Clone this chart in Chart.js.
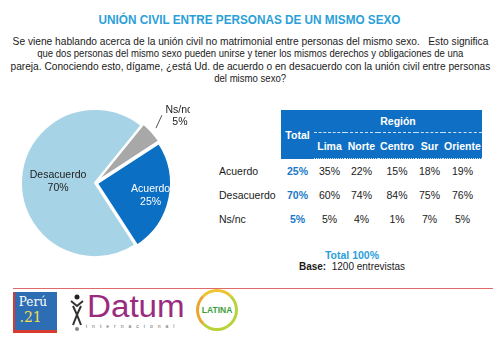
<!DOCTYPE html>
<html>
<head>
<meta charset="utf-8">
<script src="https://cdn.jsdelivr.net/npm/chart.js@4"></script>
<style>
  body { margin: 0; width: 500px; height: 340px; background: #fff; position: relative; overflow: hidden;
         font-family: "Liberation Sans", Arial, sans-serif; color: #1a1a1a; }
  .linea-txt { position: absolute; left: -250px; width: 1000px; text-align: center; white-space: nowrap; }
  .linea-txt span { display: inline-block; transform-origin: center; }
  #titulo { top: 12px; font-size: 13.5px; font-weight: bold; color: #2aa0d8; }
  .preg { font-size: 11.5px; }
  #pie { position: absolute; left: 0; top: 98px; width: 190px; height: 170px; }
  #tabla { position: absolute; left: 210px; top: 110px; border-collapse: collapse; font-size: 10.5px; table-layout: fixed; }
  #tabla td, #tabla th { padding: 0; text-align: center; white-space: nowrap; }
  #tabla th { background: #0f6fc4; color: #fff; font-weight: bold; font-size: 10.5px; }
  #tabla td.lbl { text-align: left; padding-left: 9px; }
  #tabla td.tot { color: #1a78c8; font-weight: bold; }
  #tabla tr.datos td { height: 24px; }
  #pie-tabla { position: absolute; left: 252px; top: 250px; width: 200px; text-align: center; font-size: 10px; line-height: 11px; }
  #pie-tabla .t { color: #2aa0d8; font-weight: bold; font-size: 10.5px; }
  #linea { position: absolute; left: 13px; top: 288px; width: 480px; height: 1px; background: #e06a6a; }
  #peru { position: absolute; left: 13px; top: 292px; width: 44px; height: 41px; background: #2d6db3;
          border-left: 2px solid #d83a2e; border-bottom: 3px solid #d83a2e; color: #fff;
          font-family: "DejaVu Serif", serif; font-size: 12px; line-height: 15px; padding-top: 3px; box-sizing: border-box; }
  #datum { position: absolute; left: 87px; top: 293px; height: 28px; font-size: 31px; line-height: 28px; color: #9a2c80;
           transform: scaleX(1.07); transform-origin: left; }
  #datum2 { position: absolute; left: 86px; top: 323px; font-size: 5px; line-height: 6px; letter-spacing: 5px; color: #666; }
  #latina { position: absolute; left: 196px; top: 289px; width: 42px; height: 42px; border-radius: 50%;
            border: 3px solid #b8d23a; border-left-color: #e9a52c; border-top-color: #f0c330; box-sizing: border-box;
            text-align: center; font-size: 8.5px; font-weight: bold; color: #3aa03a; line-height: 37px; }
</style>
</head>
<body>
<div id="titulo" class="linea-txt"><span data-w="302">UNIÓN CIVIL ENTRE PERSONAS DE UN MISMO SEXO</span></div>
<div class="linea-txt preg" style="top:35px"><span data-w="476">Se viene hablando acerca de la unión civil no matrimonial entre personas del mismo sexo.&nbsp;&nbsp; Esto significa</span></div>
<div class="linea-txt preg" style="top:47px"><span data-w="426">que dos personas del mismo sexo pueden unirse y tener los mismos derechos y obligaciones de una</span></div>
<div class="linea-txt preg" style="top:60px"><span data-w="480">pareja. Conociendo esto, dígame, ¿está Ud. de acuerdo o en desacuerdo con la unión civil entre personas</span></div>
<div class="linea-txt preg" style="top:72px"><span data-w="72">del mismo sexo?</span></div>
<div id="pie"><canvas id="grafico"></canvas></div>
<table id="tabla"></table>
<div id="pie-tabla"><div class="t">Total 100%</div><div><b>Base:</b>&nbsp; 1200 entrevistas</div></div>
<div id="linea"></div>
<div id="peru">&nbsp;Perú<br><span style="color:#f2e14a;font-size:14px">&nbsp;.21</span></div>
<svg style="position:absolute;left:70px;top:294px" width="14" height="38" viewBox="0 0 14 38">
  <circle cx="7" cy="3" r="2.5" fill="#222"/>
  <path d="M1 7 L7 12 L13 7 M3 31 Q7 20 11 12 M11 31 Q7 20 3 12" stroke="#333" stroke-width="2" fill="none"/>
  <circle cx="7" cy="35" r="2" fill="#888"/>
</svg>
<div id="datum">Datum</div>
<div id="datum2">internacional</div>
<div id="latina">LATINA</div>

<script>
// datos del gráfico circular
const categorias = ['Ns/nc', 'Acuerdo', 'Desacuerdo'];
const valores = [5, 25, 70];
const colores = ['#a8a8a8', '#0b6fc3', '#a6d4e6'];

// datos de la tabla por región
const regiones = ['Lima', 'Norte', 'Centro', 'Sur', 'Oriente'];
const filas = ['Acuerdo', 'Desacuerdo', 'Ns/nc'];
const totales = [25, 70, 5];
const lima = [35, 60, 5];
const norte = [22, 74, 4];
const centro = [15, 84, 1];
const sur = [18, 75, 7];
const oriente = [19, 76, 5];

// ajusta cada línea de texto al ancho del original
document.querySelectorAll('.linea-txt span').forEach(s => {
    const w = s.getBoundingClientRect().width;
    s.style.transform = `scaleX(${(+s.dataset.w / w).toFixed(3)})`;
});

// tabla
const anchos = [71, 33, 31, 33, 38, 27, 39];
const tabla = document.getElementById('tabla');
let html = '<colgroup>' + anchos.map(a => `<col style="width:${a}px">`).join('') + '</colgroup>';
html += '<tr><td rowspan="2" style="background:#fff"></td><th rowspan="2" style="padding-top:2px">Total</th>' +
        '<th colspan="5" style="height:22px;border-bottom:1px dashed #cfe3f5">Región</th></tr>';
html += '<tr>' + regiones.map(r => `<th style="height:25px;border-bottom:1px dotted #cfe3f5">${r}</th>`).join('') + '</tr>';
const porRegion = [lima, norte, centro, sur, oriente];
filas.forEach((f, i) => {
    html += `<tr class="datos"><td class="lbl">${f}</td><td class="tot">${totales[i]}%</td>` +
            porRegion.map(r => `<td>${r[i]}%</td>`).join('') + '</tr>';
});
tabla.innerHTML = html;

// etiquetas del pie
const etiquetas = {
    id: 'etiquetas',
    afterDatasetsDraw(chart) {
        const c = chart.ctx;
        const meta = chart.getDatasetMeta(0);
        c.save();
        c.font = '10.5px "Liberation Sans"';
        c.textAlign = 'center';
        c.textBaseline = 'middle';
        meta.data.forEach((arc, i) => {
            const p = arc.getProps(['x', 'y', 'startAngle', 'endAngle', 'outerRadius'], true);
            const mid = (p.startAngle + p.endAngle) / 2;
            const off = arc.options.offset || 0;
            const cx = p.x + Math.cos(mid) * off;
            const cy = p.y + Math.sin(mid) * off;
            if (i === 0) {
                // Ns/nc afuera con línea guía
                const r = p.outerRadius + 2;
                const x0 = cx + Math.cos(mid) * r, y0 = cy + Math.sin(mid) * r;
                c.strokeStyle = '#555';
                c.lineWidth = 1;
                c.beginPath();
                c.moveTo(x0, y0);
                c.lineTo(x0 + 6, y0 - 13);
                c.stroke();
                c.fillStyle = '#222';
                c.fillText(categorias[i], x0 + 23, y0 - 18);
                c.fillText(valores[i] + '%', x0 + 24, y0 - 6);
            } else {
                const k = i === 1 ? 0.66 : 0.5;
                const lx = cx + Math.cos(mid) * p.outerRadius * k;
                const ly = cy + Math.sin(mid) * p.outerRadius * k;
                c.fillStyle = i === 1 ? '#fff' : '#222';
                c.fillText(categorias[i], lx, ly - 6);
                c.fillText(valores[i] + '%', lx, ly + 7);
            }
        });
        c.restore();
    }
};

new Chart(document.getElementById('grafico'), {
    type: 'pie',
    data: {
        labels: categorias,
        datasets: [{
            data: valores,
            backgroundColor: colores,
            borderColor: '#fff',
            borderWidth: 2,
            offset: [6, 8, 0],
            hoverOffset: 0
        }]
    },
    options: {
        responsive: true,
        maintainAspectRatio: false,
        animation: false,
        rotation: 39,
        layout: { padding: 6 },
        plugins: { legend: { display: false }, tooltip: { enabled: false } }
    },
    plugins: [etiquetas]
});
</script>
</body>
</html>
